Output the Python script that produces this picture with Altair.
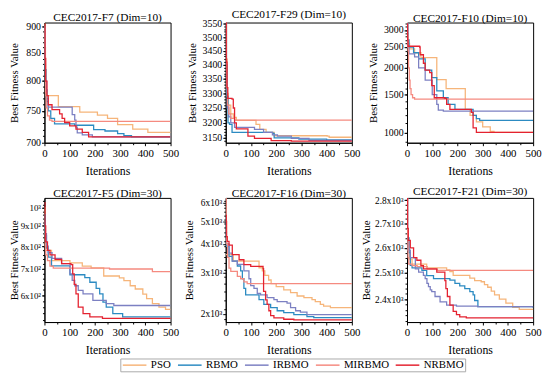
import altair as alt
import pandas as pd

ALGOS = ["PSO", "RBMO", "IRBMO", "MIRBMO", "NRBMO"]
COLORS = ["#F6B57A", "#2C8BC2", "#7C80C2", "#F58A80", "#E42230"]

TITLES = ["CEC2017-F7 (Dim=10)", "CEC2017-F29 (Dim=10)", "CEC2017-F10 (Dim=10)",
          "CEC2017-F5 (Dim=30)", "CEC2017-F16 (Dim=30)", "CEC2017-F21 (Dim=30)"]
X_TICKS = [0, 100, 200, 300, 400, 500]
X_MINOR = [50, 150, 250, 350, 450]

# ---- F7 (Dim=10) : (iteration, best fitness) breakpoints
F7_PSO = [(0, 905), (2, 860), (4, 800), (6, 775), (55, 757), (140, 748), (210, 743), (250, 738),
          (290, 728), (350, 721), (410, 716), (500, 716)]
F7_RBMO = [(0, 900), (3, 820), (6, 785), (10, 765), (15, 750), (25, 738), (40, 729), (120, 727),
           (195, 720), (240, 718), (290, 714), (315, 711), (345, 709), (500, 709)]
F7_IRBMO = [(0, 900), (3, 800), (8, 770), (15, 756), (110, 744), (120, 735), (125, 724), (130, 715),
            (150, 712), (190, 709), (500, 709)]
F7_MIRBMO = [(0, 900), (2, 830), (4, 780), (7, 755), (12, 742), (20, 735), (30, 733), (500, 733)]
F7_NRBMO = [(0, 905), (2, 840), (5, 800), (10, 775), (15, 760), (30, 752), (60, 745), (70, 738),
            (80, 731), (100, 726), (125, 721), (150, 716), (175, 709), (500, 709)]

# ---- F29 (Dim=10)
F29_PSO = [(0, 3554), (3, 3420), (6, 3300), (10, 3260), (20, 3230), (30, 3218), (42, 3208), (120, 3195),
           (135, 3178), (160, 3168), (192, 3157), (402, 3156), (410, 3152), (500, 3152)]
F29_RBMO = [(0, 3554), (2, 3400), (5, 3290), (9, 3200), (15, 3195), (25, 3168), (186, 3165), (192, 3150),
            (290, 3146), (400, 3143), (500, 3143)]
F29_IRBMO = [(0, 3554), (3, 3350), (6, 3250), (12, 3220), (20, 3200), (35, 3185), (114, 3178), (150, 3168),
             (185, 3160), (205, 3156), (260, 3148), (330, 3142), (500, 3140)]
F29_MIRBMO = [(0, 3554), (2, 3420), (4, 3320), (7, 3260), (12, 3230), (20, 3215), (35, 3209), (500, 3209)]
F29_NRBMO = [(0, 3554), (2, 3410), (5, 3320), (8, 3283), (25, 3280), (30, 3250), (35, 3200), (42, 3180),
             (88, 3156), (114, 3148), (180, 3141), (260, 3139), (500, 3138)]

# ---- F10 (Dim=10)
F10_PSO = [(0, 3200), (2, 2900), (5, 2600), (10, 2450), (30, 2350), (55, 2230), (118, 1760), (155, 1600),
           (231, 1280), (250, 1200), (275, 1120), (300, 1060), (330, 1010), (345, 1000), (500, 1000)]
F10_RBMO = [(0, 3200), (3, 2700), (8, 2500), (26, 2350), (46, 2200), (72, 1950), (98, 1800), (118, 1560),
            (144, 1450), (163, 1350), (190, 1280), (249, 1280), (262, 1200), (275, 1160), (288, 1138),
            (500, 1138)]
F10_IRBMO = [(0, 3200), (3, 2500), (8, 2320), (30, 2250), (46, 2000), (72, 1750), (100, 1500), (118, 1350),
             (124, 1270), (144, 1255), (500, 1255)]
F10_MIRBMO = [(0, 3150), (2, 2800), (4, 2400), (6, 2000), (9, 1750), (12, 1600), (16, 1500), (22, 1450),
              (30, 1430), (500, 1430)]
F10_NRBMO = [(0, 3200), (2, 2700), (4, 2520), (50, 2500), (52, 2300), (65, 2100), (72, 1950), (90, 1900),
             (98, 1650), (108, 1450), (150, 1440), (157, 1350), (170, 1280), (249, 1280), (255, 1240),
             (262, 1050), (275, 1000), (500, 1000)]

# ---- F5 (Dim=30)
F5_PSO = [(0, 1000), (2, 860), (4, 780), (28, 735), (101, 725), (150, 712), (185, 705), (235, 672),
          (297, 665), (315, 654), (340, 635), (360, 623), (390, 605), (405, 589), (428, 572), (454, 561),
          (480, 553), (500, 553)]
F5_RBMO = [(0, 960), (3, 850), (8, 790), (15, 750), (28, 713), (101, 677), (160, 666), (180, 648),
           (205, 625), (219, 606), (232, 577), (245, 561), (271, 540), (310, 530), (500, 530)]
F5_IRBMO = [(0, 920), (3, 860), (8, 800), (15, 770), (30, 745), (68, 722), (101, 680), (110, 655),
            (120, 635), (134, 618), (153, 606), (192, 583), (245, 572), (275, 566), (500, 566)]
F5_MIRBMO = [(0, 860), (2, 800), (5, 760), (12, 735), (22, 712), (35, 704), (258, 700), (428, 689),
             (500, 689)]
F5_NRBMO = [(0, 1030), (2, 900), (5, 820), (12, 780), (22, 760), (42, 740), (68, 722), (105, 718),
            (112, 680), (118, 640), (125, 606), (134, 561), (153, 540), (180, 530), (230, 525), (500, 523)]

# ---- F16 (Dim=30)
F16_PSO = [(0, 3600), (30, 3370), (132, 3160), (145, 3066), (155, 2930), (170, 2800), (180, 2700),
           (200, 2620), (230, 2540), (257, 2470), (283, 2390), (310, 2350), (342, 2306), (355, 2260),
           (375, 2199), (388, 2165), (415, 2130), (500, 2125)]
F16_RBMO = [(0, 5200), (1, 4300), (3, 3900), (13, 3535), (26, 3370), (46, 3215), (59, 3066), (66, 2834),
            (72, 2578), (79, 2418), (132, 2306), (151, 2199), (178, 2132), (204, 2066), (230, 2030),
            (270, 1990), (322, 1950), (349, 1930), (500, 1930)]
F16_IRBMO = [(0, 4500), (3, 4000), (13, 3650), (26, 3370), (46, 3265), (72, 3066), (92, 2834), (99, 2650),
             (112, 2578), (125, 2450), (138, 2418), (164, 2350), (191, 2306), (204, 2260), (243, 2230),
             (257, 2132), (277, 2066), (296, 2040), (322, 1990), (500, 1985)]
F16_MIRBMO = [(0, 6300), (2, 5000), (4, 4000), (7, 3500), (13, 3150), (20, 3050), (46, 2900), (59, 2834),
              (72, 2750), (85, 2702), (500, 2702)]
F16_NRBMO = [(0, 5300), (2, 4300), (6, 4100), (13, 3950), (26, 3600), (53, 3420), (72, 3260), (99, 3200),
             (148, 3130), (150, 2500), (158, 2300), (164, 2199), (171, 2066), (178, 1968), (191, 1926),
             (230, 1900), (270, 1890), (500, 1885)]

# ---- F21 (Dim=30)
F21_PSO = [(0, 2810), (2, 2660), (5, 2590), (10, 2555), (20, 2535), (78, 2520), (157, 2512), (170, 2505),
           (183, 2491), (249, 2480), (268, 2470), (294, 2466), (307, 2455), (320, 2445), (334, 2430),
           (347, 2416), (366, 2400), (392, 2385), (419, 2370), (445, 2362), (500, 2361)]
F21_RBMO = [(0, 2810), (2, 2640), (8, 2580), (13, 2530), (20, 2520), (59, 2510), (78, 2490), (105, 2478),
            (170, 2472), (190, 2460), (209, 2450), (229, 2440), (249, 2428), (262, 2416), (268, 2395),
            (281, 2372), (500, 2368)]
F21_IRBMO = [(0, 2810), (2, 2650), (5, 2590), (13, 2560), (33, 2516), (46, 2503), (65, 2491), (72, 2478),
             (79, 2460), (85, 2447), (92, 2435), (98, 2428), (111, 2410), (131, 2390), (157, 2378),
             (196, 2374), (280, 2372), (500, 2369)]
F21_MIRBMO = [(0, 2810), (2, 2650), (4, 2560), (7, 2535), (20, 2529), (40, 2525), (80, 2515), (120, 2510),
              (500, 2510)]
F21_NRBMO = [(0, 2810), (2, 2680), (5, 2630), (13, 2600), (26, 2560), (39, 2550), (55, 2529), (65, 2516),
             (118, 2503), (150, 2470), (154, 2440), (160, 2410), (170, 2378), (183, 2355), (196, 2343),
             (209, 2335), (235, 2331), (500, 2330)]

# y-axis settings per panel
Y_DOMAINS = [[700, 908], [3134, 3554], [895, 3250], [514, 1059], [1848, 6300], [2316, 2810]]
Y_TICKS = [[700, 750, 800, 850, 900],
           [3150, 3200, 3250, 3300, 3350, 3400, 3450, 3500, 3550],
           [1000, 1500, 2000, 2500, 3000],
           [600, 700, 800, 900, 1000],
           [2000, 3000, 4000, 5000, 6000],
           [2400, 2500, 2600, 2700, 2800]]
Y_MINOR = [list(range(710, 910, 10)),
           list(range(3140, 3560, 10)),
           list(range(900, 3300, 100)),
           list(range(520, 1060, 20)),
           list(range(1900, 6300, 200)),
           list(range(2320, 2820, 20))]
Y_LABEL_EXPR = ["format(datum.value, 'd')",
                "format(datum.value, 'd')",
                "format(datum.value, 'd')",
                "datum.value == 1000 ? '10\u00b3' : format(datum.value / 100, 'd') + 'x10\u00b2'",
                "format(datum.value / 1000, 'd') + 'x10\u00b3'",
                "format(datum.value / 1000, '.1f') + 'x10\u00b3'"]
Y_LABEL_SIZE = [10, 10, 10, 9, 9.5, 9.5]
Y_TITLE_PAD = [5, 8.5, 8.5, 5, 11.3, 16.5]
PANEL_HEIGHTS = [122, 122, 122, 126, 126, 126]

SERIES = [
    [F7_PSO, F7_RBMO, F7_IRBMO, F7_MIRBMO, F7_NRBMO],
    [F29_PSO, F29_RBMO, F29_IRBMO, F29_MIRBMO, F29_NRBMO],
    [F10_PSO, F10_RBMO, F10_IRBMO, F10_MIRBMO, F10_NRBMO],
    [F5_PSO, F5_RBMO, F5_IRBMO, F5_MIRBMO, F5_NRBMO],
    [F16_PSO, F16_RBMO, F16_IRBMO, F16_MIRBMO, F16_NRBMO],
    [F21_PSO, F21_RBMO, F21_IRBMO, F21_MIRBMO, F21_NRBMO],
]

FONT = "Liberation Serif"


def make_panel(i):
    rows = []
    for algo, pts in zip(ALGOS, SERIES[i]):
        for it, v in pts:
            rows.append({"iter": it, "value": v, "algo": algo})
    df = pd.DataFrame(rows)
    xscale = alt.Scale(domain=[0, 500], nice=False)
    yscale = alt.Scale(type="log", domain=Y_DOMAINS[i], nice=False, zero=False)
    lines = alt.Chart(df).mark_line(interpolate="step-after", strokeWidth=1.3, clip=True).encode(
        x=alt.X("iter:Q", scale=xscale,
                axis=alt.Axis(values=X_TICKS, title="Iterations", format="d", labelFlush=False,
                              labelFont=FONT, titleFont=FONT, titleFontWeight="normal",
                              labelFontSize=11, titleFontSize=12, labelPadding=2, titlePadding=7)),
        y=alt.Y("value:Q", scale=yscale,
                axis=alt.Axis(values=Y_TICKS[i], labelExpr=Y_LABEL_EXPR[i], title="Best Fitness Value",
                              labelFlush=False, labelFont=FONT, titleFont=FONT, titleFontWeight="normal",
                              labelFontSize=Y_LABEL_SIZE[i], titleFontSize=11, minExtent=20, maxExtent=20,
                              titlePadding=Y_TITLE_PAD[i])),
        color=alt.Color("algo:N",
                        scale=alt.Scale(domain=ALGOS, range=COLORS),
                        legend=alt.Legend(orient="none", legendX=77, legendY=341, direction="horizontal",
                                          columns=5, gridAlign="each", title=None,
                                          symbolType="M-3,0L3,0", symbolSize=64, symbolOffset=8,
                                          symbolStrokeWidth=1.5, labelFont=FONT,
                                          labelFontSize=11, labelColor="black", strokeColor="#aaaaaa",
                                          padding=1, columnPadding=3, labelOffset=11)),
    )
    minor = alt.Chart(df).mark_point(opacity=0, size=1).encode(
        x=alt.X("iter:Q", scale=xscale,
                axis=alt.Axis(values=X_MINOR, orient="bottom", labels=False, domain=False, title=None,
                              tickSize=2, minExtent=0, maxExtent=2)),
        y=alt.Y("value:Q", scale=yscale,
                axis=alt.Axis(values=Y_MINOR[i], orient="left", labels=False, domain=False, title=None,
                              tickSize=2, minExtent=0, maxExtent=2)),
    )
    return alt.layer(lines, minor).resolve_axis(x="independent", y="independent").properties(
        width=128, height=PANEL_HEIGHTS[i],
        title=alt.TitleParams(TITLES[i], font=FONT, fontSize=11.5, fontWeight="normal", color="black",
                              offset=-2),
    )


chart = alt.concat(*[make_panel(i) for i in range(6)], columns=3, bounds="flush", align="each",
                   spacing={"row": 56, "column": 56}).properties(
    padding={"left": 0, "top": -2, "right": 0, "bottom": 0}
).configure_view(stroke="black", strokeWidth=1).configure_axis(
    grid=False, labelColor="black", titleColor="black", domainColor="black", tickColor="black",
    tickSize=3, labelPadding=1,
)

chart.save("out.html", embed_options={"renderer": "svg", "actions": False})
